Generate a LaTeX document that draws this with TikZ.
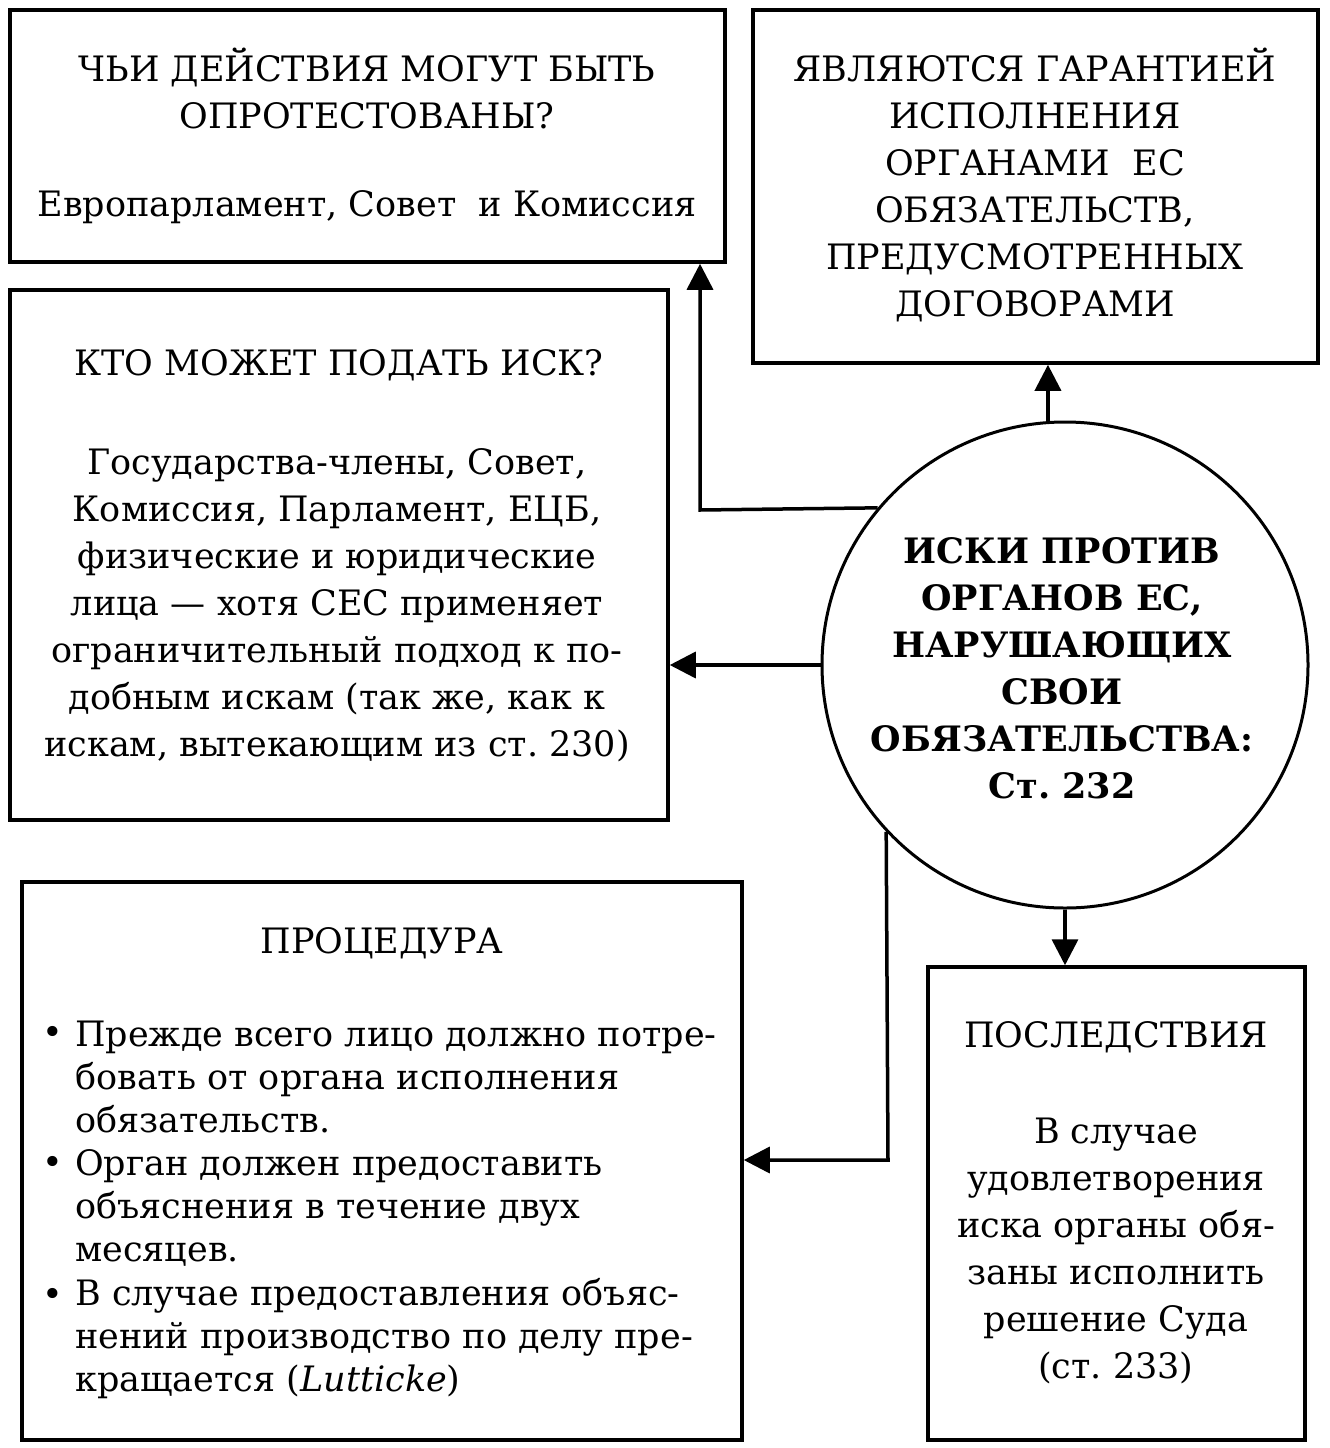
\documentclass[tikz,border=0pt]{standalone}
\usepackage{fontspec}
\setmainfont{DejaVu Serif}
\usetikzlibrary{arrows.meta}
\begin{document}
\frenchspacing
\begin{tikzpicture}[x=1pt,y=-1pt,
  box/.style={draw,line width=3.5pt,rectangle,inner sep=0pt},
  txt/.style={align=center,inner sep=0pt,font=\fontsize{35}{47}\selectfont},
  btxt/.style={align=center,inner sep=0pt,font=\bfseries\fontsize{35}{47}\selectfont},
  ltxt/.style={align=left,inner sep=0pt,font=\fontsize{35}{43}\selectfont,anchor=west},
  arr/.style={line width=3.5pt,-{Triangle[length=26pt,width=26pt]}}]
\useasboundingbox (0,0) rectangle (1330,1448);
% boxes
\node[box,minimum width=715pt,minimum height=252pt] (b1) at (367.5,136) {};
\node[box,minimum width=565pt,minimum height=353pt] (b2) at (1035.5,186.5) {};
\node[box,minimum width=658pt,minimum height=530pt] (b3) at (339,555) {};
\node[box,minimum width=720pt,minimum height=558pt] (b5) at (382,1161) {};
\node[box,minimum width=377pt,minimum height=473pt] (b6) at (1116.5,1203.5) {};
\node[draw,circle,line width=3pt,minimum size=486pt,inner sep=0pt] (c) at (1065,665) {};
% texts
\node[txt] (t1) at (367,88) {ЧЬИ ДЕЙСТВИЯ МОГУТ БЫТЬ\\ОПРОТЕСТОВАНЫ?};
\node[txt] (t1b) at (367,207) {Европарламент, Совет\ \ и Комиссия};
\node[txt] (t2) at (1035,185) {ЯВЛЯЮТСЯ ГАРАНТИЕЙ\\ИСПОЛНЕНИЯ\\ОРГАНАМИ\ \ ЕС\\ОБЯЗАТЕЛЬСТВ,\\ПРЕДУСМОТРЕННЫХ\\ДОГОВОРАМИ};
\node[txt] (t3) at (339,365) {КТО МОЖЕТ ПОДАТЬ ИСК?};
\node[txt] (t3b) at (337,605) {Государства-члены, Совет,\\Комиссия, Парламент, ЕЦБ,\\физические и юридические\\лица — хотя СЕС применяет\\ограничительный подход к по-\\добным искам (так же, как к\\искам, вытекающим из ст. 230)};
\node[btxt] (tc) at (1062,668) {ИСКИ ПРОТИВ\\ОРГАНОВ ЕС,\\НАРУШАЮЩИХ\\СВОИ\\ОБЯЗАТЕЛЬСТВА:\\Ст. 232};
\node[txt] (t5) at (382,943) {ПРОЦЕДУРА};
\node[ltxt] (d1) at (42,1035) {•};
\node[ltxt] (p1) at (75,1077) {Прежде всего лицо должно потре-\\бовать от органа исполнения\\обязательств.};
\node[ltxt] (d2) at (42,1165) {•};
\node[ltxt] (p2) at (75,1208) {Орган должен предоставить\\объяснения в течение двух\\месяцев.};
\node[ltxt] (d3) at (42,1297) {•};
\node[ltxt] (p3) at (75,1339) {В случае предоставления объяс-\\нений производство по делу пре-\\кращается (\textit{Lutticke})};
\node[txt] (t6) at (1116,1037) {ПОСЛЕДСТВИЯ};
\node[txt] (t6b) at (1116,1251) {В случае\\удовлетворения\\иска органы обя-\\заны исполнить\\решение Суда\\(ст. 233)};
% connectors
\coordinate (k1) at (700,510);
\coordinate (k2) at (888,1160);
\draw[arr] (c.140.3) -- (k1) -- (k1 |- b1.south);
\draw[arr] (c.west) -- (b3.east |- c.west);
\draw[arr] (c.94) -- (c.94 |- b2.south);
\draw[arr] (c.south) -- (c.south |- b6.north);
\draw[arr] (c.223.2) -- (k2) -- (b5.east |- k2);
\end{tikzpicture}
\end{document}
